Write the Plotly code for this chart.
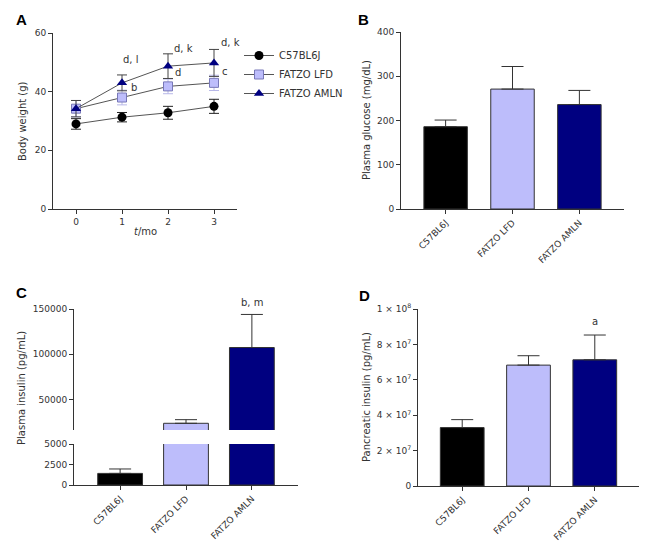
import plotly.graph_objects as go

# --- data ---
months = [0, 1, 2, 3]
bw_c57 = [29.0, 31.3, 32.8, 35.0]
bw_c57_err = [1.8, 1.6, 2.2, 2.4]
bw_lfd = [34.2, 38.0, 41.8, 43.0]
bw_lfd_err = [2.8, 2.5, 2.5, 2.6]
bw_amln = [34.2, 43.0, 48.7, 49.8]
bw_amln_err = [2.8, 2.7, 4.2, 4.6]

groups = ["C57BL6J", "FATZO LFD", "FATZO AMLN"]
glucose = [186, 271, 236]
glucose_err = [15, 51, 32]
plasma_ins = [1415, 23900, 107500]
plasma_ins_err = [540, 4000, 36500]
panc_ins = [3.30e7, 6.83e7, 7.13e7]
panc_ins_err = [0.45e7, 0.53e7, 1.40e7]

bar_colors = ["#000000", "#BDBDFB", "#000080"]

W, H = 657, 553
FONT = "DejaVu Sans"
TXT = "#333333"


def px_x(a, b):
    return [a / W, b / W]


def px_y(top, bot):
    return [1 - bot / H, 1 - top / H]


fig = go.Figure()

# --- panel A: body weight ---
fig.add_trace(go.Scatter(x=months, y=bw_c57, name="C57BL6J", mode="lines+markers",
                         line=dict(color="#555555", width=1),
                         marker=dict(symbol="circle", size=9, color="#000000"),
                         error_y=dict(type="data", array=bw_c57_err, color="#222222", width=5, thickness=1),
                         xaxis="x", yaxis="y"))
fig.add_trace(go.Scatter(x=months, y=bw_lfd, name="FATZO LFD", mode="lines+markers",
                         line=dict(color="#555555", width=1),
                         marker=dict(symbol="square", size=9, color="#BDBDFB",
                                     line=dict(color="#7878B8", width=1)),
                         error_y=dict(type="data", array=bw_lfd_err, color="#B8B8E8", width=5, thickness=1),
                         xaxis="x", yaxis="y"))
fig.add_trace(go.Scatter(x=months, y=bw_amln, name="FATZO AMLN", mode="lines+markers",
                         line=dict(color="#555555", width=1),
                         marker=dict(symbol="triangle-up", size=9, color="#000080"),
                         error_y=dict(type="data", array=bw_amln_err, color="#444444", width=5, thickness=1),
                         xaxis="x", yaxis="y"))

# --- panel B: glucose ---
fig.add_trace(go.Bar(x=groups, y=glucose, marker=dict(color=bar_colors, line=dict(color="#333333", width=1)),
                     width=0.65, showlegend=False,
                     error_y=dict(type="data", array=glucose_err, arrayminus=[0, 0, 0], symmetric=False,
                                  color="#333333", width=11, thickness=1),
                     xaxis="x2", yaxis="y2"))

# --- panel C: plasma insulin (broken axis) ---
for xa, ya in [("x3", "y3"), ("x4", "y4")]:
    fig.add_trace(go.Bar(x=groups, y=plasma_ins, marker=dict(color=bar_colors, line=dict(color="#333333", width=1)),
                         width=0.68, showlegend=False,
                         error_y=dict(type="data", array=plasma_ins_err, arrayminus=[0, 0, 0], symmetric=False,
                                      color="#333333", width=11, thickness=1),
                         xaxis=xa, yaxis=ya))

# --- panel D: pancreatic insulin ---
fig.add_trace(go.Bar(x=groups, y=panc_ins, marker=dict(color=bar_colors, line=dict(color="#333333", width=1)),
                     width=0.66, showlegend=False,
                     error_y=dict(type="data", array=panc_ins_err, arrayminus=[0, 0, 0], symmetric=False,
                                  color="#333333", width=11, thickness=1),
                     xaxis="x5", yaxis="y5"))

ax = dict(showline=True, linecolor="#333333", linewidth=1, ticks="outside", ticklen=4,
          tickcolor="#333333", showgrid=False, zeroline=False, automargin=False,
          tickfont=dict(family=FONT, size=9, color=TXT))

tick_d = [0, 2e7, 4e7, 6e7, 8e7, 1e8]
tick_d_txt = ["0", "2 × 10<sup>7</sup>", "4 × 10<sup>7</sup>", "6 × 10<sup>7</sup>",
              "8 × 10<sup>7</sup>", "1 × 10<sup>8</sup>"]

fig.update_layout(
    template="none",
    width=W, height=H, margin=dict(l=0, r=0, t=0, b=0, pad=0),
    plot_bgcolor="white", paper_bgcolor="white",
    font=dict(family=FONT, size=10, color=TXT),
    xaxis=dict(ax, domain=px_x(53, 237), anchor="y", range=[-0.5, 3.5], tickvals=months),
    yaxis=dict(ax, domain=px_y(33, 209), anchor="x", range=[0, 60], tickvals=[0, 20, 40, 60]),
    xaxis2=dict(ax, domain=px_x(401, 624), anchor="y2", type="category", range=[-0.667, 2.667],
                tickangle=-45),
    yaxis2=dict(ax, domain=px_y(32, 209), anchor="x2", range=[0, 400], tickvals=[0, 100, 200, 300, 400]),
    xaxis3=dict(ax, domain=px_x(74, 298), anchor="y3", type="category", range=[-0.7, 2.7],
                tickangle=-45),
    yaxis3=dict(ax, domain=px_y(444, 485), anchor="x3", range=[0, 5000], tickvals=[0, 2500, 5000],
                ticktext=["0", "2500", "5000"]),
    xaxis4=dict(domain=px_x(74, 298), anchor="y4", type="category", range=[-0.7, 2.7],
                visible=False, matches="x3", automargin=False),
    yaxis4=dict(ax, domain=px_y(309, 430), anchor="x4", range=[16500, 150000],
                tickvals=[50000, 100000, 150000], ticktext=["50000", "100000", "150000"]),
    xaxis5=dict(ax, domain=px_x(418, 639), anchor="y5", type="category", range=[-0.667, 2.667],
                tickangle=-45),
    yaxis5=dict(ax, domain=px_y(309, 486), anchor="x5", range=[0, 1e8], tickvals=tick_d,
                ticktext=tick_d_txt),
    legend=dict(x=239 / W, y=1 - 41 / H, xanchor="left", yanchor="top",
                font=dict(family=FONT, size=10, color=TXT), bgcolor="rgba(0,0,0,0)",
                borderwidth=0, tracegroupgap=0),
)

anns = []
# panel letters
for letter, x, y in [("A", 21, 19), ("B", 363, 19), ("C", 21, 292), ("D", 364, 295)]:
    anns.append(dict(text="<b>%s</b>" % letter, x=x / W, y=1 - y / H, xref="paper", yref="paper",
                     xanchor="center", yanchor="middle",
                     showarrow=False, font=dict(family="Liberation Sans", size=15, color="#000000")))
# axis titles
for t, x, y in [("Body weight (g)", 22, 121), ("Plasma glucose (mg/dL)", 367, 120),
                ("Plasma insulin (pg/mL)", 22, 388), ("Pancreatic insulin (pg/mL)", 366, 397)]:
    anns.append(dict(text=t, x=x / W, y=1 - y / H, xref="paper", yref="paper", textangle=-90,
                     xanchor="center", yanchor="middle",
                     showarrow=False, font=dict(family=FONT, size=10, color=TXT)))
anns.append(dict(text="<i>t</i>/mo", x=145 / W, y=1 - 231 / H, xref="paper", yref="paper",
                 xanchor="center", yanchor="middle",
                 showarrow=False, font=dict(family=FONT, size=10, color=TXT)))
# significance letters
for t, x, y in [("d, l", 1.18, 51.0), ("b", 1.25, 41.4), ("d, k", 2.34, 54.8), ("d", 2.22, 46.5),
                ("d, k", 3.36, 56.7), ("c", 3.24, 47.0)]:
    anns.append(dict(text=t, x=x, y=y, xref="x", yref="y", showarrow=False,
                     xanchor="center", yanchor="middle",
                     font=dict(family=FONT, size=10, color=TXT)))
anns.append(dict(text="b, m", x=2, y=plasma_ins[2] + plasma_ins_err[2], xref="x4", yref="y4",
                 xanchor="center", yanchor="bottom", yshift=4, showarrow=False,
                 font=dict(family=FONT, size=10, color=TXT)))
anns.append(dict(text="a", x=2, y=panc_ins[2] + panc_ins_err[2], xref="x5", yref="y5",
                 xanchor="center", yanchor="bottom", yshift=6, showarrow=False,
                 font=dict(family=FONT, size=10, color=TXT)))
fig.update_layout(annotations=anns)

fig.write_html("out.html", config={"displayModeBar": False},
               post_script="document.body.style.margin = '0px';")
